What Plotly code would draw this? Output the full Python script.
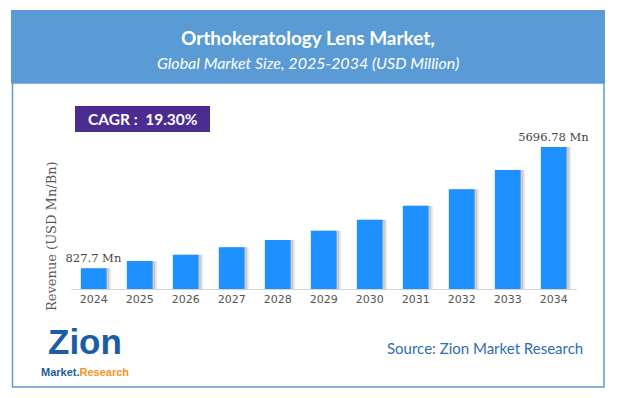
import plotly.graph_objects as go

years = ["2024", "2025", "2026", "2027", "2028", "2029", "2030", "2031", "2032", "2033", "2034"]
revenue = [827.7, 1123, 1376, 1673, 1966, 2339, 2780, 3342, 4000, 4774, 5696.78]
label_years = ["2024", "2034"]

title = "Orthokeratology Lens Market,"
subtitle = "Global Market Size, 2025-2034 (USD Million)"
cagr_text = "CAGR :  19.30%"
y_title = "Revenue (USD Mn/Bn)"
source_text = "Source: Zion Market Research"

W, H = 617, 398
def px(x):
    return x / W
def py(y):
    return 1 - y / H

labels = [f"{v:g} Mn" if yr in label_years else "" for yr, v in zip(years, revenue)]

fig = go.Figure()
# soft shadows on the right of each bar
for off, alpha in [(0.10, 0.10), (0.06, 0.18)]:
    fig.add_trace(go.Bar(
        x=years, y=revenue, width=0.56, offset=-0.28 + off,
        marker=dict(color=f"rgba(60,60,60,{alpha})", line=dict(width=0)),
        hoverinfo="skip", showlegend=False))
fig.add_trace(go.Bar(
    x=years, y=revenue, width=0.56, offset=-0.28,
    marker=dict(color="#1E90FF", line=dict(width=0)),
    text=labels, textposition="outside", cliponaxis=False, constraintext="none",
    textfont=dict(family="DejaVu Serif", size=11.5, color="#444444"),
    showlegend=False))

def ann(text, x, y, size, color, family="Lato", xanchor="center", **kw):
    return dict(text=text, xref="paper", yref="paper", x=px(x), y=py(y),
                xanchor=xanchor, yanchor="middle", showarrow=False,
                font=dict(family=family, size=size, color=color), **kw)

ymax = 5696.78 * 189 / 142
fig.update_layout(
    width=W, height=H, margin=dict(l=0, r=0, t=0, b=0),
    paper_bgcolor="white", plot_bgcolor="white",
    barmode="overlay",
    xaxis=dict(domain=[px(70.7), px(576.7)], showline=True, linecolor="#d4d4d4",
               linewidth=1, ticks="", showgrid=False,
               tickfont=dict(family="DejaVu Sans", size=11, color="#555555")),
    yaxis=dict(domain=[py(289), py(100)], range=[0, ymax], visible=False),
    shapes=[
        dict(type="rect", xref="paper", yref="paper", x0=px(11), x1=px(605), y0=py(83), y1=py(10),
             fillcolor="#5B9BD5", line=dict(width=0), layer="below"),
        dict(type="rect", xref="paper", yref="paper", x0=px(12.5), x1=px(604), y0=py(387), y1=py(83),
             fillcolor="rgba(0,0,0,0)", line=dict(color="#5B9BD5", width=1.5), layer="below"),
        dict(type="rect", xref="paper", yref="paper", x0=px(75), x1=px(210), y0=py(132), y1=py(106),
             fillcolor="#4B2C91", line=dict(width=0)),
    ],
    annotations=[
        ann(f"<b>{title}</b>", 308, 37, 19, "white"),
        ann(f"<i>{subtitle}</i>", 308, 62, 16, "white"),
        ann(f"<b>{cagr_text}</b>", 142.5, 119, 15.5, "white"),
        ann(y_title, 51, 236, 13, "#5a5a5a", family="DejaVu Serif", textangle=-90),
        ann(source_text, 585, 348, 15, "#2E6DB4", xanchor="right"),
        ann("<b>Zion</b>", 85, 341, 35, "#1A5CA8", family="Liberation Sans"),
        ann("<b><span style='color:#1A5CA8'>Market.</span>"
            "<span style='color:#F7941D'>Research</span></b>",
            85, 372, 11, "#1A5CA8", family="Liberation Sans"),
    ],
)

fig.write_html("out.html", config={"displayModeBar": False},
               post_script="document.body.style.margin='0';")
